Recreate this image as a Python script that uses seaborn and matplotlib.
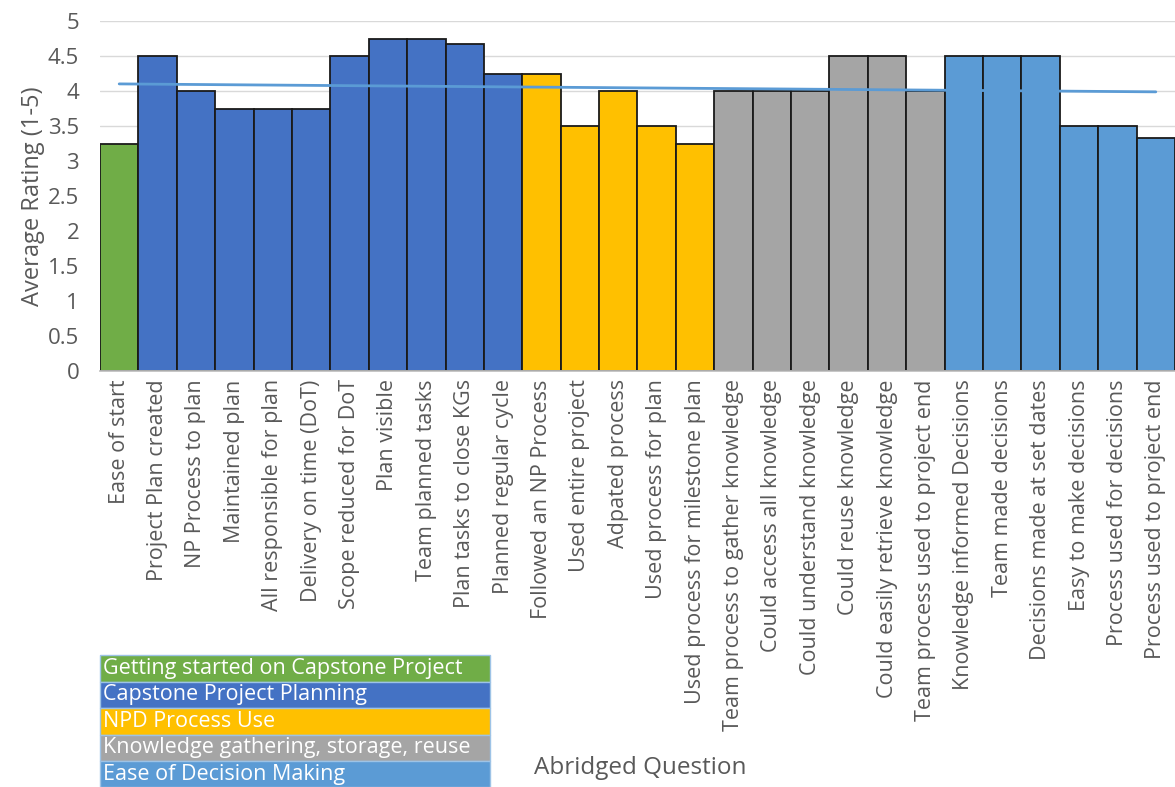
import numpy as np
import pandas as pd
import seaborn as sns
import matplotlib.pyplot as plt
from matplotlib.patches import Rectangle

questions = [
    'Ease of start', 'Project Plan created', 'NP Process to plan', 'Maintained plan',
    'All responsible for plan', 'Delivery on time (DoT)', 'Scope reduced for DoT',
    'Plan visible', 'Team planned tasks', 'Plan tasks to close KGs', 'Planned regular cycle',
    'Followed an NP Process', 'Used entire project', 'Adpated process', 'Used process for plan',
    'Used process for milestone plan', 'Team process to gather knowledge',
    'Could access all knowledge', 'Could understand knowledge', 'Could reuse knowledge',
    'Could easily retrieve knowledge', 'Team process used to project end',
    'Knowledge informed Decisions', 'Team made decisions', 'Decisions made at set dates',
    'Easy to make decisions', 'Process used for decisions', 'Process used to project end',
]
ratings = [3.25, 4.5, 4.0, 3.75, 3.75, 3.75, 4.5, 4.75, 4.75, 4.67, 4.25,
           4.25, 3.5, 4.0, 3.5, 3.25,
           4.0, 4.0, 4.0, 4.5, 4.5, 4.0,
           4.5, 4.5, 4.5, 3.5, 3.5, 3.33]
groups = (['Getting started on Capstone Project'] * 1
          + ['Capstone Project Planning'] * 10
          + ['NPD Process Use'] * 5
          + ['Knowledge gathering, storage, reuse'] * 6
          + ['Ease of Decision Making'] * 6)
group_names = ['Getting started on Capstone Project', 'Capstone Project Planning',
               'NPD Process Use', 'Knowledge gathering, storage, reuse',
               'Ease of Decision Making']
group_colors = ['#70AD47', '#4472C4', '#FFC000', '#A5A5A5', '#5B9BD5']

df = pd.DataFrame({'Question': questions, 'Rating': ratings, 'Group': groups})

sns.set_theme(style='white')
plt.rcParams['font.family'] = ['Open Sans', 'DejaVu Sans']

fig = plt.figure(figsize=(11.75, 7.87), dpi=100)
ax = fig.add_axes([100 / 1175, 1 - 371 / 787, 1 - 100 / 1175, 350 / 787])

sns.barplot(data=df, x='Question', y='Rating', hue='Group', hue_order=group_names,
            palette=group_colors, saturation=1, dodge=False, width=1.0,
            edgecolor='#1a1a1a', linewidth=1.3, legend=False, ax=ax, zorder=2)

# linear trendline
xs = np.arange(len(ratings))
slope, intercept = np.polyfit(xs, ratings, 1)
ax.plot(xs, slope * xs + intercept, color='#5B9BD5', lw=2, zorder=3)

ax.set_xlim(-0.5, len(ratings) - 0.5)
ax.set_ylim(0, 5)
ax.set_yticks(np.arange(0, 5.01, 0.5))
ax.set_yticklabels(['0', '0.5', '1', '1.5', '2', '2.5', '3', '3.5', '4', '4.5', '5'])
ax.yaxis.grid(True, color='#D9D9D9', lw=1, zorder=0)
ax.set_axisbelow(True)
for s in ['top', 'right', 'left']:
    ax.spines[s].set_visible(False)
ax.spines['bottom'].set_color('#BFBFBF')
ax.tick_params(axis='both', length=0, labelsize=15.5, colors='#595959')
ax.tick_params(axis='y', labelsize=16, pad=15)
ax.tick_params(axis='x', pad=6)
plt.setp(ax.get_xticklabels(), rotation=90)
ax.set_xlabel('')
ax.set_ylabel('Average Rating (1-5)', fontsize=17, color='#595959', labelpad=2)
fig.text(640 / 1175, 1 - 768 / 787, 'Abridged Question', fontsize=17.5, color='#595959',
         ha='center', va='center')

# colour key table
row_h = 26.5
for i, (name, col) in enumerate(zip(group_names, group_colors)):
    y0 = 655 + i * row_h
    fig.patches.append(Rectangle((100 / 1175, 1 - (y0 + row_h) / 787), 390 / 1175, row_h / 787,
                                 transform=fig.transFigure, facecolor=col,
                                 edgecolor='#9DC3E6', lw=1))
    fig.text(103 / 1175, 1 - (y0 + row_h / 2) / 787, name, fontsize=15.5, color='white',
             ha='left', va='center')

fig.savefig('out.png', dpi=100)
